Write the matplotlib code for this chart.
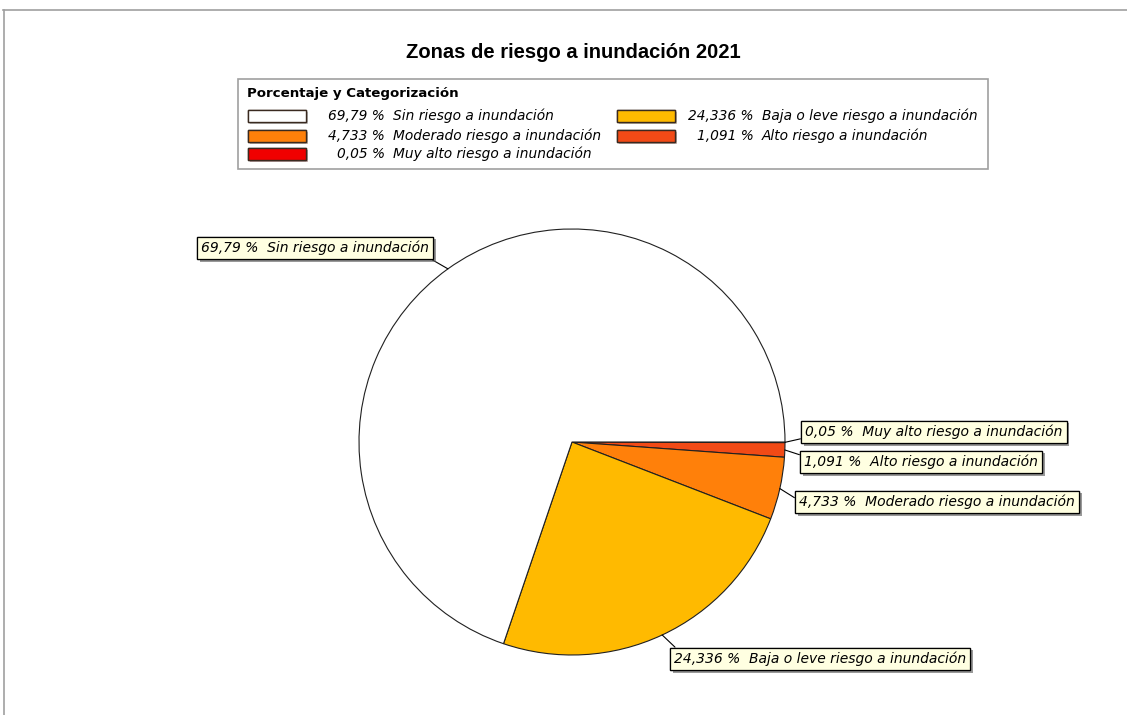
import matplotlib.pyplot as plt
import matplotlib.patheffects as pe
from matplotlib.patches import Rectangle
import numpy as np

# datos de la grafica (orden de la leyenda)
categorias = ['Sin riesgo a inundación', 'Baja o leve riesgo a inundación',
              'Moderado riesgo a inundación', 'Alto riesgo a inundación',
              'Muy alto riesgo a inundación']
porcentajes = [69.79, 24.336, 4.733, 1.091, 0.05]
colores = ['#ffffff', '#ffba00', '#ff800a', '#f24a16', '#f00000']
titulo = 'Zonas de riesgo a inundación 2021'
titulo_leyenda = 'Porcentaje y Categorización'

plt.rcParams['font.family'] = ['DejaVu Sans']

W, H = 1127, 715
fig = plt.figure(figsize=(W / 100, H / 100), dpi=100)
ax = fig.add_axes([0, 0, 1, 1])


def fmt(v):
    return str(v).replace('.', ',') + ' %'


def py(y):
    # coordenada de pixel (desde arriba) a coordenada del eje
    return H - y


# marco gris
ax.plot([3, W], [py(10), py(10)], color='#a0a0a0', lw=1.2)
ax.plot([4, 4], [py(10), 0], color='#a0a0a0', lw=1.2)

ax.text(573, py(53), titulo, ha='center', va='center', fontsize=14.5,
        fontweight='bold', family='Liberation Sans')

# pastel: sentido horario desde las 3 en punto
cx, cy, r = 572, py(442), 213
wedges, _ = ax.pie(porcentajes[::-1], colors=colores[::-1], startangle=0,
                   counterclock=False, center=(cx, cy), radius=r,
                   wedgeprops=dict(edgecolor='#202020', linewidth=0.8))

# etiquetas con caja amarilla
cajas = {  # posicion del texto (x izq, y centro) y punto de union en la caja
    'Sin riesgo a inundación': (201, 248, (0.98, 0.0)),
    'Baja o leve riesgo a inundación': (674, 659, (0.02, 1.0)),
    'Moderado riesgo a inundación': (799, 502, (0.0, 0.6)),
    'Alto riesgo a inundación': (804, 462, (0.0, 0.9)),
    'Muy alto riesgo a inundación': (805, 432, (0.0, 0.1)),
}
sombra = [pe.withSimplePatchShadow(offset=(2, -2), shadow_rgbFace='#555555', alpha=0.6),
          pe.Normal()]
for w, cat, val in zip(wedges, categorias[::-1], porcentajes[::-1]):
    ang = np.deg2rad((w.theta1 + w.theta2) / 2)
    ex, ey = cx + r * np.cos(ang), cy + r * np.sin(ang)
    tx, ty, rel = cajas[cat]
    an = ax.annotate(fmt(val) + '  ' + cat, xy=(ex, ey), xytext=(tx, py(ty)),
                     ha='left', va='center', fontsize=10.0, style='italic',
                     bbox=dict(boxstyle='square,pad=0.3', fc='#ffffe1', ec='black', lw=0.9),
                     arrowprops=dict(arrowstyle='-', color='black', lw=0.8,
                                     relpos=rel, shrinkA=0, shrinkB=0))
    an.get_bbox_patch().set_path_effects(sombra)

# leyenda
ax.add_patch(Rectangle((238, py(169)), 988 - 238, 169 - 79, fc='white', ec='#a0a0a0', lw=1.2))
ax.text(247, py(93), titulo_leyenda, ha='left', va='center', fontsize=9.6, fontweight='bold')
col_x = [(248, 385), (617, 754)]
filas_y = [116, 136, 154]
for i, (cat, val, col) in enumerate(zip(categorias, porcentajes, colores)):
    sx, nx = col_x[i % 2]
    yy = filas_y[i // 2]
    sw = Rectangle((sx, py(yy + 6)), 58, 12, fc=col, ec='#3a2a20', lw=1.0)
    sw.set_path_effects([pe.withSimplePatchShadow(offset=(1.5, -1.5), alpha=0.3), pe.Normal()])
    ax.add_patch(sw)
    ax.text(nx, py(yy), fmt(val), ha='right', va='center', fontsize=9.9, style='italic')
    ax.text(nx + 8, py(yy), cat, ha='left', va='center', fontsize=9.9, style='italic')

ax.set_xlim(0, W)
ax.set_ylim(0, H)
ax.set_aspect('equal')
ax.axis('off')

fig.savefig('out.png', dpi=100, facecolor='white')
